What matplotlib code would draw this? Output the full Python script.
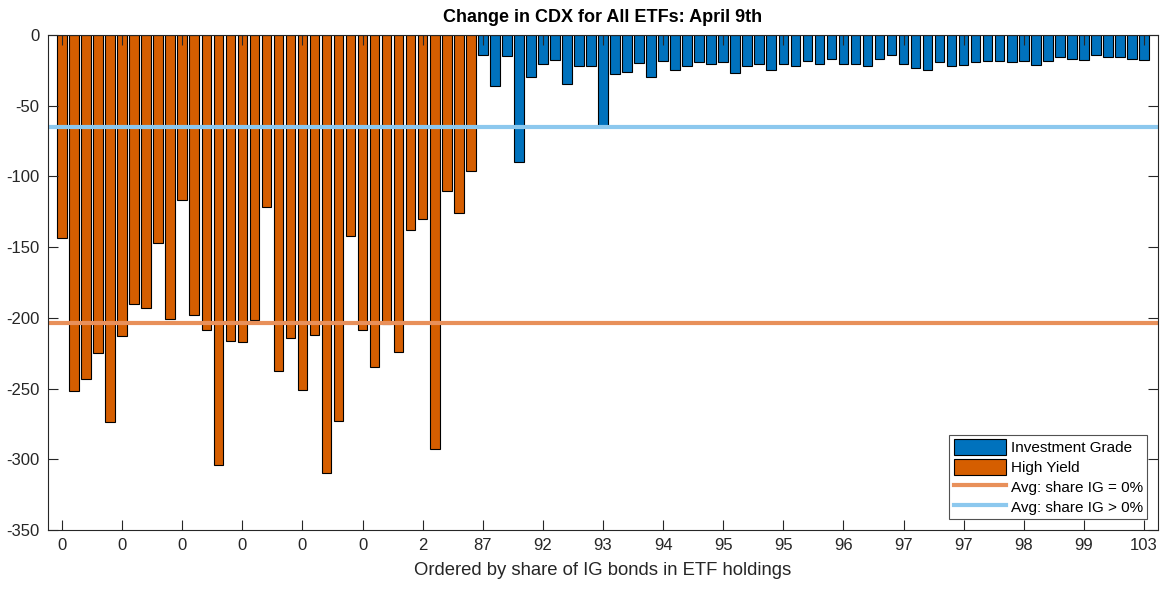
import matplotlib.pyplot as plt
import numpy as np

plt.rcParams['font.family'] = ['Liberation Sans', 'DejaVu Sans']
plt.rcParams['axes.unicode_minus'] = False

# change in CDX per ETF, ordered by share of IG bonds
hy_values = [
    -143.8, -252.0, -243.0, -225.0, -273.7, -213.0, -190.0, -193.3, -147.0, -200.6,
    -117.0, -197.8, -208.9, -304.3, -216.6, -216.9, -201.6, -121.4, -237.6, -214.3,
    -251.0, -212.4, -310.0, -272.8, -142.0, -208.9, -235.0, -204.2, -224.0, -137.7,
    -130.4, -292.5, -110.6, -125.6, -96.0,
]
ig_values = [
    -13.8, -35.8, -14.9, -89.8, -29.5, -20.3, -17.7, -34.7, -22.2, -22.2,
    -65.3, -27.3, -25.9, -20.0, -29.5, -18.4, -25.0, -22.2, -19.3, -20.3,
    -19.3, -26.6, -22.2, -20.3, -25.0, -20.3, -22.2, -18.6, -20.5, -16.7,
    -20.3, -20.3, -22.2, -16.7, -13.9, -20.3, -23.1, -25.0, -19.3, -22.2,
    -21.2, -19.3, -18.6, -18.6, -19.3, -18.6, -21.2, -18.6, -15.8, -16.7,
    -17.7, -13.9, -15.8, -15.8, -16.7, -17.7,
]
tick_labels = ['0', '0', '0', '0', '0', '0', '2', '87', '92', '93',
               '94', '95', '95', '96', '97', '97', '98', '99', '103']
avg_hy = -203.6
avg_ig = -64.8

BLUE = '#0072BD'
ORANGE = '#D55E00'
AXCOL = '#262626'

n_hy = len(hy_values)
n = n_hy + len(ig_values)
x_hy = np.arange(1, n_hy + 1)
x_ig = np.arange(n_hy + 1, n + 1)

fig = plt.figure(figsize=(11.65, 5.89), dpi=100)
ax = fig.add_axes([48 / 1165, 1 - 530 / 589, 1110 / 1165, 495 / 589])

b_ig = ax.bar(x_ig, ig_values, width=0.8, color=BLUE, edgecolor='black',
              linewidth=0.8, label='Investment Grade')
b_hy = ax.bar(x_hy, hy_values, width=0.8, color=ORANGE, edgecolor='black',
              linewidth=0.8, label='High Yield')
l_hy = ax.axhline(avg_hy, color='#E8905A', linewidth=3, label='Avg: share IG = 0%')
l_ig = ax.axhline(avg_ig, color='#8CC8EE', linewidth=3, label='Avg: share IG > 0%')

ax.set_xlim(-0.17, n + 1.17)
ax.set_ylim(-350, 0)
ax.set_yticks(np.arange(-350, 1, 50))
ax.set_xticks(np.arange(1, n + 1, 5))
ax.set_xticklabels(tick_labels)

ax.tick_params(direction='in', length=7, width=0.8, colors=AXCOL,
               labelsize=12, top=True, right=True, pad=6)
for s in ax.spines.values():
    s.set_color(AXCOL)
    s.set_linewidth(0.8)

ax.set_title('Change in CDX for All ETFs: April 9th', fontsize=13,
             fontweight='bold', pad=9)
ax.set_xlabel('Ordered by share of IG bonds in ETF holdings', fontsize=13.3,
              color=AXCOL, labelpad=6)

leg = ax.legend([b_ig, b_hy, l_hy, l_ig],
                ['Investment Grade', 'High Yield', 'Avg: share IG = 0%',
                 'Avg: share IG > 0%'],
                loc='lower right', fontsize=11, frameon=True, fancybox=False,
                edgecolor=AXCOL, handlelength=3.4, handleheight=1.2,
                handletextpad=0.3, borderpad=0.3, labelspacing=0.25,
                borderaxespad=0.7)
leg.get_frame().set_linewidth(0.8)

fig.savefig('out.png', dpi=100)
